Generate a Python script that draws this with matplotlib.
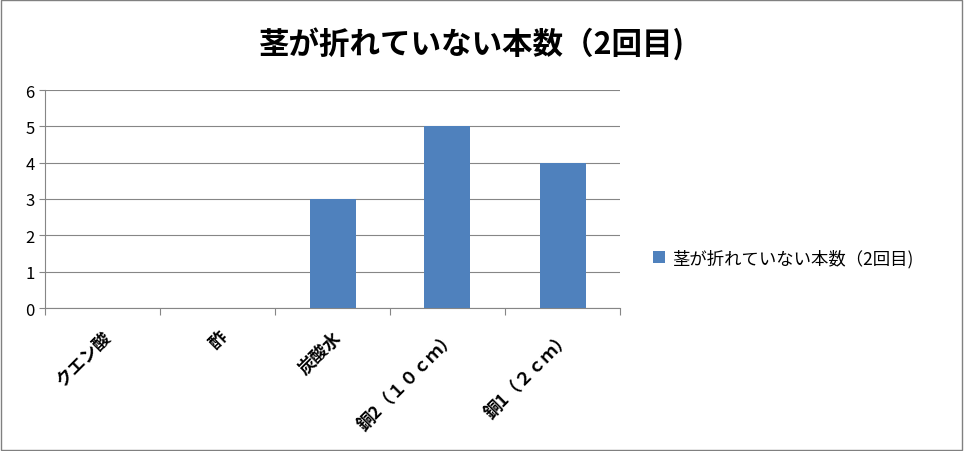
import matplotlib
matplotlib.use("Agg")
import matplotlib.pyplot as plt
from matplotlib.patches import Rectangle
from matplotlib.transforms import ScaledTranslation

plt.rcParams['font.family'] = ['Noto Sans CJK JP', 'DejaVu Sans']

categories = ["クエン酸", "酢", "炭酸水", "銅2（１０ｃｍ）", "銅1（２ｃｍ）"]
values = [0, 0, 3, 5, 4]
series_name = "茎が折れていない本数（2回目)"
title = "茎が折れていない本数（2回目)"

fig = plt.figure(figsize=(9.64, 4.52), dpi=100)
fig.patches.append(Rectangle((0.001, 0.002), 0.997, 0.995, transform=fig.transFigure,
                             fill=False, edgecolor="#808080", linewidth=1))
ax = fig.add_axes([45/964, 1-309/452, 575/964, 218/452])
x = list(range(len(categories)))
ax.bar(x, values, width=0.4, color="#4F81BD", label=series_name, zorder=3)
ax.set_xlim(-0.5, len(categories)-0.5)
ax.set_ylim(0, 6)
ax.set_yticks(range(0, 7))
ax.yaxis.grid(True, color="#868686", linewidth=0.8, zorder=0)
ax.set_xticks([i-0.5 for i in range(len(categories)+1)])
ax.set_xticklabels([])
ax.set_xticks(x, minor=True)
ax.set_xticklabels(categories, minor=True, rotation=45, ha="right", rotation_mode="anchor",
                   fontsize=12.5, fontweight="bold")
for lbl in ax.get_xticklabels(minor=True):
    lbl.set_transform(lbl.get_transform() + ScaledTranslation(-0.05, 0, fig.dpi_scale_trans))
ax.tick_params(axis="x", which="minor", length=0, pad=14)
ax.tick_params(axis="x", which="major", length=5, color="#868686")
ax.tick_params(axis="y", length=4, color="#868686", labelsize=12)
for s in ["top", "right"]:
    ax.spines[s].set_visible(False)
for s in ["left", "bottom"]:
    ax.spines[s].set_color("#868686")
fig.text(0.49, 0.9, title, ha="center", va="center", fontsize=22, fontweight="bold")
ax.legend(loc="center left", bbox_to_anchor=(1.03, 0.23), frameon=False, fontsize=12.5,
          handlelength=0.7, handleheight=0.7, handletextpad=0.4)
fig.savefig("out.png", dpi=100)
